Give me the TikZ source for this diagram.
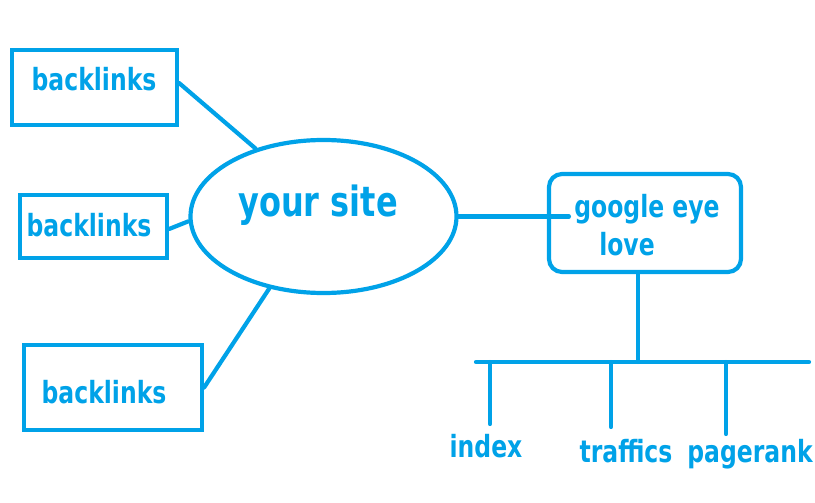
\documentclass[tikz,border=0pt]{standalone}
\usepackage{fontspec}
\setmainfont{DejaVu Sans}
\usepackage{xcolor}
\usepackage{tikz}
\usetikzlibrary{positioning, shapes.geometric, calc}
\definecolor{paintblue}{HTML}{00A2E8}
\newcommand{\tallword}[1]{\scalebox{1}[1.3]{#1}}

\begin{document}
\begin{tikzpicture}[
    x=1pt, y=-1pt,
    line width=4.2pt,
    every node/.style={align=center, text=paintblue, font=\fontsize{23.5}{26}\selectfont\bfseries},
    linkbox/.style={rectangle, draw=paintblue, inner sep=0pt},
    sitenode/.style={ellipse, draw=paintblue, inner sep=0pt, minimum width=266pt, minimum height=153pt},
    eyebox/.style={rectangle, rounded corners=13pt, draw=paintblue, inner sep=0pt, minimum width=192pt, minimum height=98pt},
    wire/.style={draw=paintblue, line cap=round}
]
    \useasboundingbox (0,0) rectangle (815,503);

    % left side: the three backlink boxes
    \node[linkbox, minimum width=165pt, minimum height=75pt] (bl1) at (94.5,87.5) {};
    \node (bl1txt) at (94,79) {\tallword{backlinks}};
    \node[linkbox, minimum width=147pt, minimum height=63pt] (bl2) at (93.5,226.5) {};
    \node (bl2txt) at (89,225) {\tallword{backlinks}};
    \node[linkbox, minimum width=178pt, minimum height=85pt] (bl3) at (113,387.5) {};
    \node (bl3txt) at (104,392) {\tallword{backlinks}};

    % the site itself
    \node[sitenode] (site) at (323.5,216.5) {};
    \node[font=\fontsize{32}{36}\selectfont\bfseries] (sitetxt) at (318,205) {\tallword{your site}};

    % google box
    \node[eyebox] (eye) at (645,223) {};
    \node (eye1) at (647,209) {\tallword{google eye}};
    \node (eye2) at (627,244) {\tallword{love}};

    % what google gives back
    \node (idx) at (486,446) {\tallword{index}};
    \node (trf) at (626,451) {\tallword{traffics}};
    \node (prk) at (750,454) {\tallword{pagerank}};

    \coordinate (bar) at (638,362);
    \coordinate (barl) at (476,362);
    \coordinate (barr) at (809,362);
    \coordinate (d1) at (490,424);
    \coordinate (d2) at (611,427);
    \coordinate (d3) at (726,434);

    % connectors
    \draw[wire] ([yshift=4.5pt]bl1.east) -- (site.135);
    \draw[wire] ([yshift=-2.5pt]bl2.east) -- (site.182);
    \draw[wire] (bl3.east) -- (site.233);
    \draw[wire] (site.east) -- (site.east -| eye1.west);
    \draw[wire] (eye.south -| bar) -- (bar);
    \draw[wire] (barl) -- (barr);
    \foreach \d in {d1, d2, d3}
        \draw[wire] (\d |- bar) -- (\d);
\end{tikzpicture}
\end{document}
